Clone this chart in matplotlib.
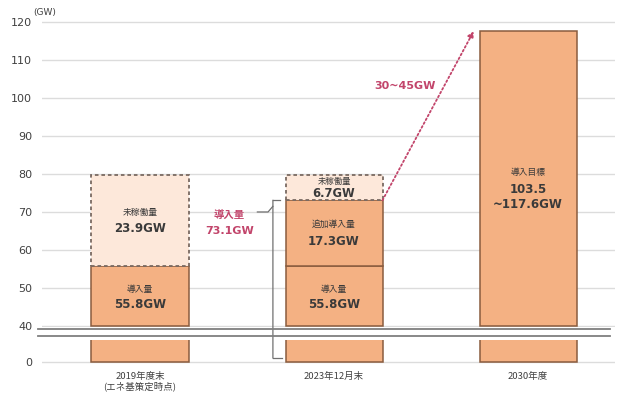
import matplotlib
matplotlib.use("Agg")
import matplotlib.pyplot as plt
from matplotlib.patches import ConnectionPatch
from matplotlib.lines import Line2D

plt.rcParams['font.family'] = ['Noto Sans CJK JP', 'DejaVu Sans']

# ---- data (GW) ----
categories = ["2019年度末\n(エネ基策定時点)", "2023年12月末", "2030年度"]
installed = [55.8, 55.8, None]          # 導入量
added = [None, 17.3, None]              # 追加導入量
idle = [23.9, 6.7, None]                # 未稼働量
target_low, target_high = 103.5, 117.6  # 導入目標
growth_label = "30~45GW"
upper_ticks = [40, 50, 60, 70, 80, 90, 100, 110, 120]

BREAK_AT = 40
ORANGE = "#F4B183"
LIGHT = "#FDE8DA"
EDGE = "#8A5C3E"
DASH_EDGE = "#7A6A62"
CRIMSON = "#C2456B"
TEXT = "#3A3A3A"
GRID = "#DCDCDC"

fig = plt.figure(figsize=(6.2, 3.95), dpi=100)
ax_top = fig.add_axes([42 / 620, 0.1709, 573 / 620, 0.7927])
ax_bot = fig.add_axes([42 / 620, 0.0766, 573 / 620, 0.0627], sharex=ax_top)

x = [0, 1, 2]
w = 0.5

for ax in (ax_top, ax_bot):
    for s in ax.spines.values():
        s.set_visible(False)
    ax.tick_params(length=0, labelsize=8, labelcolor="#404040")
    ax.set_axisbelow(True)
    ax.grid(axis="y", color=GRID, lw=1)

ax_top.set_ylim(39.6, 122)
ax_top.set_yticks(upper_ticks)
ax_top.set_yticklabels([str(t) for t in upper_ticks], family="DejaVu Sans")
ax_top.tick_params(axis="x", labelbottom=False)
ax_top.tick_params(axis="y", pad=7)

ax_bot.set_ylim(-5, BREAK_AT)
ax_bot.set_yticks([0])
ax_bot.set_yticklabels(["0"], family="DejaVu Sans")
ax_bot.tick_params(axis="y", pad=7)
ax_bot.set_xlim(-0.505, 2.448)
ax_bot.set_xticks(x)
ax_bot.set_xticklabels(categories, fontsize=6.8, color="#404040", linespacing=1.05)
ax_bot.tick_params(axis="x", pad=5)

# ---- bars ----
totals = [installed[0], installed[1], target_high]
# lower (broken) part of every bar
ax_bot.bar(x, totals, width=w, color=ORANGE, edgecolor=EDGE, lw=1.1)

# upper part: installed amount
for i in (0, 1):
    ax_top.bar(x[i], installed[i] - BREAK_AT, bottom=BREAK_AT, width=w,
               color=ORANGE, edgecolor=EDGE, lw=1.1)
    ax_top.text(x[i], (BREAK_AT + installed[i]) / 2 + 1.8, "導入量",
                ha="center", va="center", fontsize=6.3, color=TEXT)
    ax_top.text(x[i], (BREAK_AT + installed[i]) / 2 - 2.2, f"{installed[i]}GW",
                ha="center", va="center", fontsize=8.5, fontweight="bold",
                color=TEXT, family="DejaVu Sans")

# added installation (2023)
ax_top.bar(x[1], added[1], bottom=installed[1], width=w,
           color=ORANGE, edgecolor=EDGE, lw=1.1)
mid = installed[1] + added[1] / 2
ax_top.text(x[1], mid + 2.2, "追加導入量", ha="center", va="center",
            fontsize=6.3, color=TEXT)
ax_top.text(x[1], mid - 2.2, f"{added[1]}GW", ha="center", va="center",
            fontsize=8.5, fontweight="bold", color=TEXT, family="DejaVu Sans")

# idle capacity (dashed boxes)
idle_base = [installed[0], installed[1] + added[1]]
for i in (0, 1):
    ax_top.bar(x[i], idle[i], bottom=idle_base[i], width=w, color=LIGHT,
               edgecolor=DASH_EDGE, lw=1.3, linestyle=(0, (2, 1.6)), zorder=3)
m = idle_base[0] + idle[0] / 2
ax_top.text(x[0], m + 2.2, "未稼働量", ha="center", va="center",
            fontsize=6.3, color=TEXT, zorder=4)
ax_top.text(x[0], m - 2.2, f"{idle[0]}GW", ha="center", va="center",
            fontsize=8.5, fontweight="bold", color=TEXT, family="DejaVu Sans",
            zorder=4)
m = idle_base[1] + idle[1] / 2
ax_top.text(x[1], m + 1.7, "未稼働量", ha="center", va="center",
            fontsize=6, color=TEXT, zorder=4)
ax_top.text(x[1], m - 1.7, f"{idle[1]}GW", ha="center", va="center",
            fontsize=8.3, fontweight="bold", color=TEXT, family="DejaVu Sans",
            zorder=4)

# 2030 target
ax_top.bar(x[2], target_high - BREAK_AT, bottom=BREAK_AT, width=w,
           color=ORANGE, edgecolor=EDGE, lw=1.1)
ax_top.text(x[2], 80.4, "導入目標", ha="center", va="center",
            fontsize=6.3, color=TEXT)
ax_top.text(x[2], 74.0, f"{target_low}\n~{target_high}GW", ha="center",
            va="center", fontsize=8.5, fontweight="bold", color=TEXT,
            family="DejaVu Sans", linespacing=1.2)

# ---- 2023 installed bracket ----
total_2023 = installed[1] + added[1]
bx = 0.685
ax_top.plot([bx, x[1] - w / 2 - 0.03], [total_2023, total_2023],
            color="#707070", lw=0.9, clip_on=False)
con = ConnectionPatch(xyA=(bx, total_2023), coordsA=ax_top.transData,
                      xyB=(bx, 7), coordsB=ax_bot.transData,
                      color="#707070", lw=0.9)
fig.add_artist(con)
ax_bot.plot([bx, x[1] - w / 2 - 0.02], [7, 7], color="#707070", lw=0.9,
            clip_on=False)
ax_top.plot([0.605, 0.66, bx], [70, 70, 71.5], color="#707070", lw=0.9)
ax_top.text(0.46, 69.2, "導入量", ha="center", va="center", fontsize=7.5,
            color=CRIMSON, fontweight="bold")
ax_top.text(0.46, 65.0, f"{total_2023:.1f}GW", ha="center", va="center",
            fontsize=8, color=CRIMSON, fontweight="bold", family="DejaVu Sans")

# ---- growth arrow towards 2030 ----
ax_top.annotate("", xy=(x[2] - w / 2 - 0.03, target_high),
                xytext=(x[1] + w / 2, total_2023),
                arrowprops=dict(arrowstyle="-|>", color=CRIMSON, lw=1.3,
                                linestyle=(0, (1, 1.4)), shrinkA=0, shrinkB=0,
                                mutation_scale=9))
ax_top.text(1.366, 103.2, growth_label, ha="center", va="center", fontsize=8,
            color=CRIMSON, fontweight="bold", family="DejaVu Sans")

# ---- axis-break lines ----
for ypix in (328.5, 335.5):
    fig.add_artist(Line2D([38 / 620, 610 / 620],
                          [(395 - ypix) / 395, (395 - ypix) / 395],
                          color="#7F7F7F", lw=1.3))

fig.text(45 / 620, (395 - 12) / 395, "(GW)", ha="center", va="center",
         fontsize=6.5, color="#404040", family="DejaVu Sans")

fig.savefig("out.png", dpi=100, facecolor="white")
